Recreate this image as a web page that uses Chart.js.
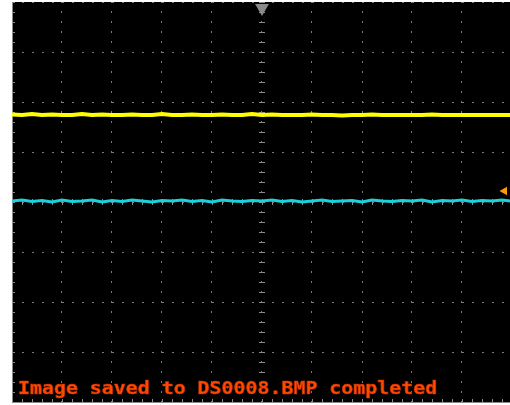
<!DOCTYPE html>
<html>
<head>
<meta charset="utf-8">
<script src="https://cdn.jsdelivr.net/npm/chart.js@4.4.1/dist/chart.umd.min.js"></script>
<style>
  html, body { margin: 0; padding: 0; background: #fff; }
  #wrap { width: 510px; height: 405px; }
</style>
</head>
<body>
<div id="wrap"><canvas id="scope" width="510" height="405"></canvas></div>
<script>
// sample times, in horizontal divisions
const sampleTimes = [0, 0.2, 0.4, 0.6, 0.8, 1, 1.2, 1.4, 1.6, 1.8, 2, 2.2, 2.4, 2.6, 2.8, 3, 3.2, 3.4, 3.6, 3.8,
  4, 4.2, 4.4, 4.6, 4.8, 5, 5.2, 5.4, 5.6, 5.8, 6, 6.2, 6.4, 6.6, 6.8, 7, 7.2, 7.4, 7.6, 7.8,
  8, 8.2, 8.4, 8.6, 8.8, 9, 9.2, 9.4, 9.6, 9.8, 9.96];

// CH1 (yellow), in vertical divisions
const ch1Values = [1.75, 1.74, 1.76, 1.74, 1.75, 1.74, 1.74, 1.76, 1.74, 1.75, 1.74, 1.74, 1.75, 1.74, 1.74, 1.76, 1.74, 1.74, 1.75, 1.74,
  1.74, 1.75, 1.74, 1.74, 1.76, 1.74, 1.75, 1.74, 1.74, 1.74, 1.75, 1.74, 1.74, 1.73, 1.74, 1.74, 1.75, 1.74, 1.74, 1.74,
  1.74, 1.74, 1.75, 1.74, 1.74, 1.74, 1.74, 1.74, 1.74, 1.74, 1.74];

// CH2 (cyan), in vertical divisions
const ch2Values = [0.02, 0.04, 0.01, 0.03, 0.0, 0.04, 0.01, 0.02, 0.04, 0.0, 0.03, 0.01, 0.04, 0.02, 0.0, 0.03, 0.02, 0.04, 0.01, 0.03,
  0.0, 0.04, 0.02, 0.01, 0.03, 0.02, 0.04, 0.01, 0.03, 0.0, 0.02, 0.04, 0.01, 0.02, 0.03, 0.0, 0.04, 0.02, 0.01, 0.03,
  0.02, 0.04, 0.0, 0.03, 0.02, 0.04, 0.01, 0.03, 0.02, 0.04, 0.02];

// markers: trigger position (top) and trigger level (right)
const trigPos = [{ x: 5, y: 3.88 }];
const trigLevel = [{ x: 9.85, y: 0.22 }];

const statusText = 'Image saved to DS0008.BMP completed';

const toPoints = (vals) => vals.map((v, i) => ({ x: sampleTimes[i], y: v }));

const scopeBg = {
  id: 'scopeBg',
  beforeDraw(chart) {
    const { ctx, chartArea: a } = chart;
    ctx.save();
    ctx.fillStyle = '#000';
    ctx.fillRect(a.left, a.top, a.right - a.left, a.bottom - a.top);
    ctx.restore();
  }
};

// small graticule ticks on the centre lines and the edges
const graticule = {
  id: 'graticule',
  beforeDatasetsDraw(chart) {
    const { ctx, chartArea: a, scales: { x, y } } = chart;
    ctx.save();
    ctx.fillStyle = '#8a8a8a';
    const cx = Math.round(x.getPixelForValue(5));
    const cy = Math.round(y.getPixelForValue(0));
    for (let v = -4; v <= 4.001; v += 0.2) {
      const py = Math.round(y.getPixelForValue(v));
      ctx.fillRect(cx - 3, py, 6, 1);
      ctx.fillRect(a.left, py, 3, 1);
    }
    for (let v = 0; v <= 10; v += 0.2) {
      const px = Math.round(x.getPixelForValue(v));
      ctx.fillRect(px, cy - 3, 1, 6);
      ctx.fillRect(px, a.bottom - 3, 1, 3);
    }
    ctx.restore();
  },
  afterDatasetsDraw(chart) {
    const { ctx, chartArea: a } = chart;
    ctx.save();
    ctx.font = 'bold 17px "DejaVu Sans Mono"';
    ctx.fillStyle = '#ff4a00';
    ctx.strokeStyle = '#c83000';
    ctx.lineWidth = 0.6;
    ctx.textBaseline = 'alphabetic';
    ctx.translate(a.left + 6, a.bottom - 8);
    ctx.scale(1.17, 1);
    ctx.fillText(statusText, 0, 0);
    ctx.strokeText(statusText, 0, 0);
    ctx.restore();
  }
};

new Chart(document.getElementById('scope'), {
  type: 'line',
  data: {
    datasets: [{
      label: 'CH1',
      data: toPoints(ch1Values),
      borderColor: '#ffff00',
      borderWidth: 4,
      pointRadius: 0,
      tension: 0
    },
    {
      label: 'CH2',
      data: toPoints(ch2Values),
      borderColor: '#19d2dc',
      borderWidth: 3,
      pointRadius: 0,
      tension: 0
    },
    {
      label: 'pos',
      type: 'scatter',
      data: trigPos,
      pointStyle: 'triangle',
      rotation: 180,
      pointRadius: 8,
      backgroundColor: '#8a8a8a',
      borderWidth: 0,
      clip: false
    },
    {
      label: 'level',
      type: 'scatter',
      data: trigLevel,
      pointStyle: 'triangle',
      rotation: -90,
      pointRadius: 5,
      backgroundColor: '#ff9a00',
      borderWidth: 0,
      clip: false
    }]
  },
  options: {
    responsive: false,
    animation: false,
    layout: { autoPadding: false, padding: { left: 12, top: 2, right: 0, bottom: 3 } },
    plugins: {
      legend: { display: false },
      tooltip: { enabled: false },
      title: { display: false }
    },
    scales: {
      x: {
        type: 'linear',
        min: 0,
        max: 9.96,
        afterFit(s) { s.height = 0; },
        ticks: { display: false, stepSize: 1 },
        grid: { color: '#7a7a7a', drawTicks: false, lineWidth: 1 },
        border: { display: true, color: '#8a8a8a', width: 1, dash: [2, 8], dashOffset: 1 }
      },
      y: {
        min: -4,
        max: 4,
        afterFit(s) { s.width = 0; },
        ticks: { display: false, stepSize: 1 },
        grid: { color: '#7a7a7a', drawTicks: false, lineWidth: 1 },
        border: { display: true, color: '#8a8a8a', width: 1, dash: [2, 8], dashOffset: 1 }
      }
    }
  },
  plugins: [scopeBg, graticule]
});
</script>
</body>
</html>
